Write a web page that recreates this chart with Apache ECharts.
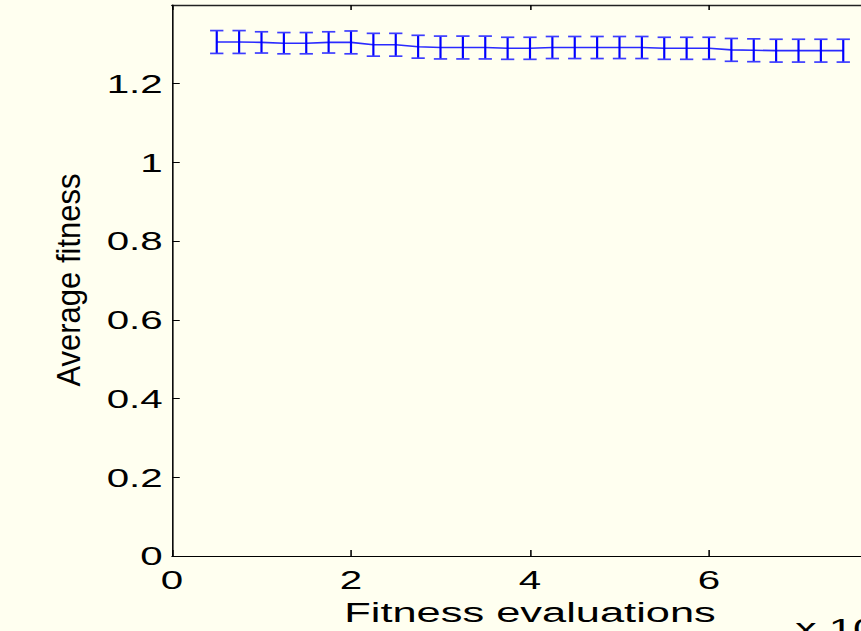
<!DOCTYPE html>
<html>
<head>
<meta charset="utf-8">
<script src="https://cdn.jsdelivr.net/npm/echarts@6/dist/echarts.min.js"></script>
<style>
html,body{margin:0;padding:0;width:861px;height:631px;overflow:hidden;background:#fffff0;}
#chart{width:600px;height:631px;transform:scaleX(1.55);transform-origin:0 0;}
</style>
</head>
<body>
<div id="chart"></div>
<script>
// Fitness evaluations (x 10^4)
var evaluations = [0.5,0.75,1,1.25,1.5,1.75,2,2.25,2.5,2.75,3,3.25,3.5,3.75,4,4.25,4.5,4.75,5,5.25,5.5,5.75,6,6.25,6.5,6.75,7,7.25,7.5];
// Average fitness (mean)
var meanFitness = [1.306,1.306,1.305,1.303,1.303,1.305,1.305,1.299,1.299,1.294,1.292,1.292,1.292,1.290,1.290,1.292,1.292,1.292,1.292,1.292,1.290,1.290,1.290,1.286,1.285,1.284,1.284,1.284,1.284];
// Error bar half-lengths
var errFitness = [0.029,0.029,0.027,0.027,0.027,0.027,0.029,0.029,0.029,0.029,0.029,0.029,0.029,0.028,0.028,0.028,0.028,0.028,0.028,0.028,0.028,0.028,0.028,0.029,0.029,0.029,0.029,0.029,0.029];
var xAxisTitle = 'Fitness evaluations';
var yAxisTitle = 'Average fitness';
var xExponent = '4';

var S = 1.55;
var FONT = '"Liberation Sans", Arial, Helvetica, sans-serif';

var errData = evaluations.map(function (x, i) {
  return [x, meanFitness[i] - errFitness[i], meanFitness[i] + errFitness[i]];
});
var lineData = evaluations.map(function (x, i) { return [x, meanFitness[i]]; });

var chart = echarts.init(document.getElementById('chart'), null, {renderer: 'svg'});
chart.setOption({
  backgroundColor: '#fffff0',
  animation: false,
  grid: {left: 172 / S, top: 5, width: 716 / S, height: 553, containLabel: false},
  xAxis: [{
    type: 'value', position: 'bottom', min: 0, max: 8, interval: 2,
    axisLine: {show: true, onZero: false, lineStyle: {color: '#000', width: 1}},
    axisTick: {show: true, inside: true, length: 6, lineStyle: {color: '#000', width: 1}},
    axisLabel: {show: true, margin: 11, color: '#000', fontSize: 26, fontFamily: FONT, showMaxLabel: false},
    splitLine: {show: false},
    name: xAxisTitle, nameLocation: 'middle', nameGap: 31,
    nameTextStyle: {color: '#000', fontSize: 28, fontFamily: FONT}
  }, {
    type: 'value', position: 'top', min: 0, max: 8, interval: 2,
    axisLine: {show: true, onZero: false, lineStyle: {color: '#222', width: 1.3}},
    axisTick: {show: true, inside: true, length: 5, lineStyle: {color: '#000', width: 1}},
    axisLabel: {show: false}, splitLine: {show: false}
  }],
  yAxis: [{
    type: 'value', min: 0, max: 1.4, interval: 0.2,
    axisLine: {show: true, onZero: false, lineStyle: {color: '#000', width: 1}},
    axisTick: {show: true, inside: true, length: 5, lineStyle: {color: '#000', width: 1}},
    axisLabel: {show: true, margin: 6, color: '#000', fontSize: 26, fontFamily: FONT, showMaxLabel: false},
    splitLine: {show: false}
  }],
  graphic: [{
    type: 'text', x: 67.5 / S, y: 280, rotation: Math.PI / 2, scaleX: 1.41,
    style: {text: yAxisTitle, fill: '#000', fontSize: 22, fontFamily: FONT,
      textAlign: 'center', textVerticalAlign: 'middle', align: 'center', verticalAlign: 'middle'}
  }, {
    type: 'text', x: 795 / S, y: 614,
    style: {text: 'x 10{sup|' + xExponent + '}', fill: '#000', fontSize: 28, fontFamily: FONT,
      rich: {sup: {fontSize: 18, verticalAlign: 'top', fontFamily: FONT}}}
  }],
  series: [{
    type: 'line', data: lineData, xAxisIndex: 0, yAxisIndex: 0,
    showSymbol: false, symbol: 'none',
    lineStyle: {color: '#2a2aff', width: 1.6}, z: 2
  }, {
    type: 'custom', data: errData, xAxisIndex: 0, yAxisIndex: 0,
    encode: {x: 0, y: [1, 2]}, z: 3,
    renderItem: function (params, api) {
      var x = api.value(0);
      var pLo = api.coord([x, api.value(1)]);
      var pHi = api.coord([x, api.value(2)]);
      var hw = 4.3;
      return {
        type: 'group',
        children: [
          {type: 'line', shape: {x1: pLo[0], y1: pLo[1], x2: pHi[0], y2: pHi[1]},
            style: {stroke: '#0000ff', lineWidth: 1.4}},
          {type: 'line', shape: {x1: pLo[0] - hw, y1: pLo[1], x2: pLo[0] + hw, y2: pLo[1]},
            style: {stroke: '#3d3dff', lineWidth: 1.7}},
          {type: 'line', shape: {x1: pHi[0] - hw, y1: pHi[1], x2: pHi[0] + hw, y2: pHi[1]},
            style: {stroke: '#3d3dff', lineWidth: 1.7}}
        ]
      };
    }
  }]
});
</script>
</body>
</html>
